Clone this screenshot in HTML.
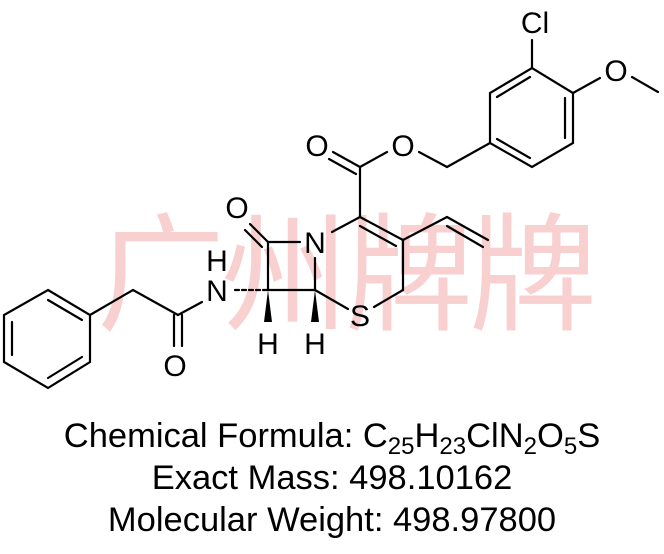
<!DOCTYPE html>
<html><head><meta charset="utf-8"><style>
html,body{margin:0;padding:0;background:#fff;}
svg{display:block;}
</style></head><body>
<svg width="664" height="554" viewBox="0 0 664 554" xmlns="http://www.w3.org/2000/svg">
<text x="345" y="320" text-anchor="middle" font-family="Noto Sans CJK SC, WenQuanYi Zen Hei, sans-serif" font-size="128" fill="#f9d0d0" letter-spacing="-4">广州牌牌</text>
<g stroke="#000" stroke-width="2.2" fill="none" stroke-linecap="round">
<polygon points="48,290 90,315 90,362 48,388 4,362 4,315"/>
<line x1="48" y1="300" x2="82" y2="320"/>
<line x1="82" y1="357" x2="48" y2="378"/>
<line x1="12" y1="322" x2="12" y2="355"/>
<line x1="90" y1="315" x2="133" y2="290"/>
<line x1="133" y1="290" x2="178" y2="315"/>
<line x1="178" y1="315" x2="202" y2="302"/>
<line x1="174" y1="315" x2="174" y2="346"/>
<line x1="182" y1="315" x2="182" y2="346"/>
<line x1="235" y1="290" x2="268" y2="290" stroke-dasharray="4,3"/>
<line x1="268" y1="290" x2="268" y2="242"/>
<line x1="268" y1="242" x2="300" y2="242"/>
<line x1="315" y1="258" x2="315" y2="290"/>
<line x1="268" y1="290" x2="315" y2="290"/>
<line x1="268" y1="242" x2="250" y2="224"/>
<line x1="262" y1="247" x2="245" y2="230"/>
<line x1="315" y1="290" x2="348" y2="309"/>
<line x1="332" y1="232" x2="360" y2="217"/>
<line x1="360" y1="217" x2="403" y2="240"/>
<line x1="360" y1="226" x2="396" y2="246"/>
<line x1="403" y1="240" x2="403" y2="290"/>
<line x1="403" y1="290" x2="374" y2="307"/>
<line x1="403" y1="240" x2="447" y2="217"/>
<line x1="447" y1="217" x2="488" y2="240"/>
<line x1="447" y1="226" x2="483" y2="247"/>
<line x1="360" y1="217" x2="360" y2="167"/>
<line x1="360" y1="167" x2="333" y2="152"/>
<line x1="356" y1="174" x2="329" y2="159"/>
<line x1="360" y1="167" x2="387" y2="152"/>
<line x1="419" y1="152" x2="447" y2="167"/>
<line x1="447" y1="167" x2="490" y2="143"/>
<polygon points="490,143 490,93 532,68 573,93 573,143 532,167"/>
<line x1="497" y1="97" x2="530" y2="77"/>
<line x1="565" y1="98" x2="565" y2="138"/>
<line x1="530" y1="158" x2="497" y2="139"/>
<line x1="532" y1="68" x2="532" y2="40"/>
<line x1="573" y1="93" x2="600" y2="78"/>
<line x1="632" y1="77" x2="658" y2="92"/>
</g>
<polygon points="268,290 264,322 272,322" fill="#000"/>
<polygon points="315,290 311,322 319,322" fill="#000"/>
<g font-family="Liberation Sans, sans-serif" font-size="30" fill="#000" text-anchor="middle">
<text x="175" y="376">O</text>
<text x="217" y="301">N</text>
<text x="217" y="271">H</text>
<text x="237" y="218">O</text>
<text x="315" y="253">N</text>
<text x="360" y="326">S</text>
<text x="268" y="354">H</text>
<text x="315" y="354">H</text>
<text x="317" y="156">O</text>
<text x="403" y="156">O</text>
<text x="535" y="33">Cl</text>
<text x="616" y="81">O</text>
</g>
<g font-family="Liberation Sans, sans-serif" font-size="34.5" fill="#000" text-anchor="middle">
<text x="332" y="447">Chemical Formula: C<tspan font-size="24" dy="7">25</tspan><tspan dy="-7">H</tspan><tspan font-size="24" dy="7">23</tspan><tspan dy="-7">ClN</tspan><tspan font-size="24" dy="7">2</tspan><tspan dy="-7">O</tspan><tspan font-size="24" dy="7">5</tspan><tspan dy="-7">S</tspan></text>
<text x="332" y="489">Exact Mass: 498.10162</text>
<text x="332" y="531">Molecular Weight: 498.97800</text>
</g>
</svg>
</body></html>
